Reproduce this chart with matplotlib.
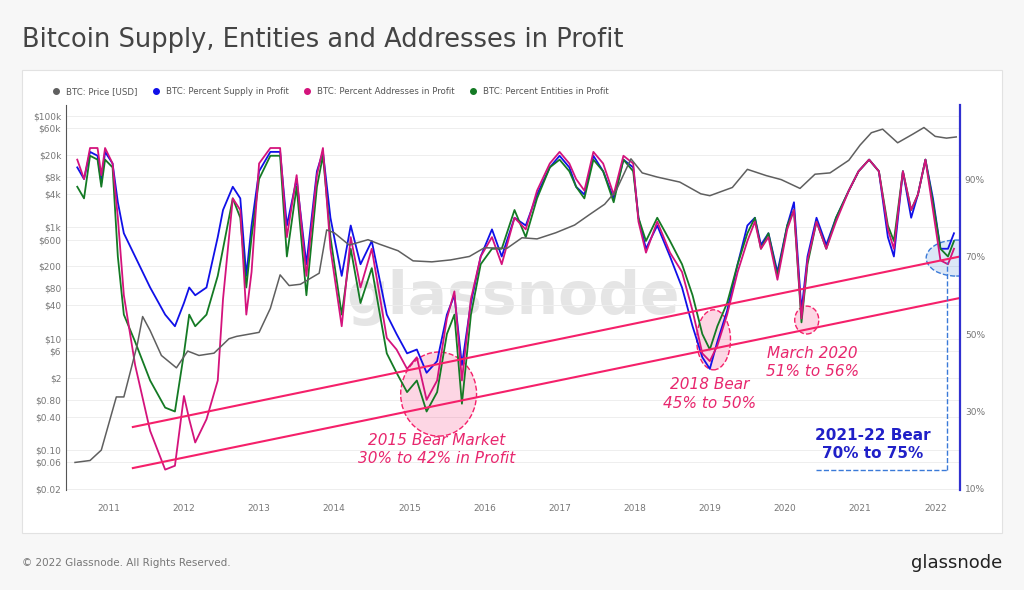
import matplotlib.pyplot as plt
from matplotlib.patches import Ellipse, Rectangle
from matplotlib.ticker import FixedLocator, NullLocator

# ── data ────────────────────────────────────────────────────────────────────
price_dates = [2010.55, 2010.75, 2010.9, 2011.0, 2011.1, 2011.2, 2011.3, 2011.38, 2011.45,
               2011.55, 2011.7, 2011.9, 2012.05, 2012.2, 2012.4, 2012.6, 2012.7, 2013.0,
               2013.15, 2013.28, 2013.4, 2013.55, 2013.8, 2013.9, 2014.0, 2014.2, 2014.45,
               2014.6, 2014.85, 2015.05, 2015.3, 2015.55, 2015.8, 2016.0, 2016.3, 2016.5,
               2016.7, 2016.95, 2017.2, 2017.4, 2017.6, 2017.75, 2017.95, 2018.1, 2018.3,
               2018.6, 2018.88, 2019.0, 2019.3, 2019.5, 2019.75, 2019.95, 2020.2, 2020.4,
               2020.6, 2020.85, 2021.0, 2021.15, 2021.3, 2021.5, 2021.7, 2021.85, 2022.0,
               2022.15, 2022.28]
price_usd = [0.06, 0.065, 0.1, 0.3, 0.9, 0.9, 3, 8, 25, 14, 5, 3, 6, 5, 5.5, 10, 11, 13,
             35, 140, 90, 95, 150, 900, 800, 480, 600, 500, 380, 250, 240, 260, 300, 430,
             420, 650, 620, 800, 1100, 1700, 2600, 4500, 17000, 9500, 8000, 6500, 4000,
             3700, 5200, 11000, 8500, 7200, 5000, 9000, 9500, 16000, 30000, 50000, 58000,
             33000, 47000, 62000, 43000, 40000, 42000]

pct_dates = [2010.58, 2010.67, 2010.75, 2010.85, 2010.9, 2010.95, 2011.05, 2011.12, 2011.2,
             2011.35, 2011.55, 2011.75, 2011.88, 2012.0, 2012.07, 2012.15, 2012.3, 2012.45,
             2012.52, 2012.65, 2012.75, 2012.83, 2012.9, 2013.0, 2013.15, 2013.28, 2013.37,
             2013.5, 2013.63, 2013.77, 2013.85, 2013.95, 2014.1, 2014.22, 2014.35, 2014.5,
             2014.7, 2014.83, 2014.97, 2015.1, 2015.23, 2015.37, 2015.5, 2015.6, 2015.7,
             2015.82, 2015.95, 2016.1, 2016.23, 2016.4, 2016.55, 2016.7, 2016.87, 2017.0,
             2017.13, 2017.22, 2017.33, 2017.45, 2017.58, 2017.72, 2017.85, 2017.98, 2018.05,
             2018.15, 2018.3, 2018.47, 2018.63, 2018.77, 2018.9, 2019.0, 2019.1, 2019.23,
             2019.37, 2019.5, 2019.6, 2019.68, 2019.78, 2019.9, 2020.03, 2020.12, 2020.22,
             2020.3, 2020.42, 2020.55, 2020.68, 2020.85, 2020.98, 2021.12, 2021.25, 2021.37,
             2021.45, 2021.57, 2021.68, 2021.77, 2021.87, 2021.97, 2022.07, 2022.17, 2022.25]
addresses_pct = [95, 90, 98, 98, 91, 98, 94, 80, 60, 42, 25, 15, 16, 34, 28, 22, 28, 38, 59,
                 85, 82, 55, 66, 94, 98, 98, 75, 91, 65, 91, 98, 72, 52, 75, 62, 72, 49, 46,
                 41, 44, 33, 38, 54, 61, 38, 59, 70, 75, 68, 80, 77, 87, 94, 97, 94, 90, 87,
                 97, 94, 86, 96, 94, 79, 71, 79, 71, 66, 56, 45, 43, 47, 55, 66, 74, 79, 72,
                 75, 64, 77, 82, 54, 69, 79, 72, 79, 87, 92, 95, 92, 77, 72, 92, 82, 86, 95,
                 82, 69, 68, 72]
supply_pct = [93, 90, 97, 96, 89, 97, 94, 84, 76, 70, 62, 55, 52, 58, 62, 60, 62, 75, 82,
              88, 85, 65, 78, 92, 97, 97, 78, 90, 68, 92, 97, 80, 65, 78, 68, 74, 55, 50,
              45, 46, 40, 43, 55, 60, 42, 58, 70, 77, 70, 80, 78, 86, 93, 96, 93, 88, 86,
              96, 92, 85, 95, 93, 80, 72, 78, 70, 62, 52, 44, 41, 48, 56, 68, 78, 80, 73,
              76, 66, 78, 84, 56, 70, 80, 73, 80, 87, 92, 95, 92, 75, 70, 92, 80, 86, 95,
              85, 72, 72, 76]
entities_pct = [88, 85, 96, 95, 88, 95, 93, 70, 55, 48, 38, 31, 30, 45, 55, 52, 55, 65, 72,
                85, 80, 62, 75, 90, 96, 96, 70, 88, 60, 88, 96, 75, 55, 72, 58, 67, 45, 40,
                35, 38, 30, 35, 50, 55, 32, 55, 68, 72, 72, 82, 75, 85, 93, 95, 92, 88, 85,
                95, 92, 84, 95, 92, 80, 74, 80, 74, 68, 60, 50, 46, 52, 58, 68, 76, 80, 72,
                76, 65, 78, 82, 53, 68, 79, 72, 80, 87, 92, 95, 92, 78, 74, 92, 82, 86, 95,
                84, 72, 70, 74]

trend_years = [2011.32, 2022.33]
trend_upper = [26.0, 70.0]
trend_lower = [15.4, 59.3]

price_ticks = [0.02, 0.06, 0.10, 0.40, 0.80, 2, 6, 10, 40, 80, 200, 600, 1e3, 4e3, 8e3,
               2e4, 6e4, 1e5]
price_labels = ["$0.02", "$0.06", "$0.10", "$0.40", "$0.80", "$2", "$6", "$10", "$40",
                "$80", "$200", "$600", "$1k", "$4k", "$8k", "$20k", "$60k", "$100k"]
pct_ticks = [10, 30, 50, 70, 90]
year_ticks = list(range(2011, 2023))

C_PRICE = "#5f5f5f"
C_SUPPLY = "#1010e8"
C_ADDR = "#d4137c"
C_ENT = "#147a24"
C_TREND = "#f5206a"
C_NOTE = "#e8276e"
C_BLUE = "#2020c8"

fig = plt.figure(figsize=(10.24, 5.9), dpi=100)
fig.patch.set_facecolor("#f7f7f7")
fig.patches.append(Rectangle((22 / 1024, 1 - 533 / 590), 980 / 1024, 463 / 590,
                             transform=fig.transFigure, facecolor="white",
                             edgecolor="#e2e2e2", lw=0.8, zorder=-1))

ax = fig.add_axes([66 / 1024, 1 - 490 / 590, 894 / 1024, 385 / 590])
ax2 = ax.twinx()

ax.set_yscale("log")
ax.set_ylim(10 ** -1.717, 10 ** 5.197)
ax.set_xlim(2010.43, 2022.33)
ax2.set_ylim(9.74, 109.1)

ax.yaxis.set_major_locator(FixedLocator(price_ticks))
ax.yaxis.set_minor_locator(NullLocator())
ax.set_yticklabels(price_labels)
ax.set_xticks(year_ticks)
ax.set_xticklabels([str(y) for y in year_ticks])
ax2.set_yticks(pct_ticks)
ax2.set_yticklabels([f"{p}%" for p in pct_ticks])

for a in (ax, ax2):
    a.tick_params(length=0, labelsize=6.5, colors="#777777")
    for s in a.spines.values():
        s.set_visible(False)
ax.tick_params(axis="x", pad=10)
ax.spines["left"].set_visible(True)
ax.spines["left"].set_color("#555555")
ax2.spines["right"].set_visible(True)
ax2.spines["right"].set_color("#3030d0")
ax2.spines["right"].set_linewidth(1.6)
ax.grid(axis="y", color="#eeeeee", lw=0.7)
ax.set_facecolor("none")

ax.text(0.5, 0.5, "glassnode", transform=ax.transAxes, ha="center", va="center",
        fontsize=42, color="#cccccc", alpha=0.5, fontweight="bold", zorder=0)

ax2.plot(pct_dates, supply_pct, color=C_SUPPLY, lw=1.3)
ax2.plot(pct_dates, entities_pct, color=C_ENT, lw=1.3)
ax2.plot(pct_dates, addresses_pct, color=C_ADDR, lw=1.3)
ax2.plot(trend_years, trend_upper, color=C_TREND, lw=1.5)
ax2.plot(trend_years, trend_lower, color=C_TREND, lw=1.5)

# price drawn via a transparent overlay on the price axis
ax3 = fig.add_axes(ax.get_position(), sharex=ax)
ax3.set_yscale("log")
ax3.set_ylim(ax.get_ylim())
ax3.axis("off")
ax3.plot(price_dates, price_usd, color=C_PRICE, lw=1.1)

for (cx, cy, w, h, col) in [(2015.39, 34.5, 1.01, 21.7, C_TREND),
                            (2019.05, 48.5, 0.45, 15.5, C_TREND),
                            (2020.29, 53.6, 0.32, 7.2, C_TREND),
                            (2022.28, 69.6, 0.8, 9.3, "#3a7ad8")]:
    ax2.add_patch(Ellipse((cx, cy), w, h, facecolor=col, alpha=0.18, edgecolor="none"))
    ax2.add_patch(Ellipse((cx, cy), w, h, facecolor="none", edgecolor=col, ls="--", lw=1))

ax2.plot([2022.16, 2022.16], [14.9, 68.5], color="#3a7ad8", ls="--", lw=1)
ax2.plot([2020.41, 2022.16], [14.9, 14.9], color="#3a7ad8", ls="--", lw=1)

note = dict(ha="center", va="center", fontsize=11, style="italic", color=C_NOTE,
            linespacing=1.3)
ax2.text(2015.37, 20.2, "2015 Bear Market\n30% to 42% in Profit", **note)
ax2.text(2019.0, 34.5, "2018 Bear\n45% to 50%", **note)
ax2.text(2020.37, 42.6, "March 2020\n51% to 56%", **note)
ax2.text(2021.17, 21.5, "2021-22 Bear\n70% to 75%", ha="center", va="center",
         fontsize=11, fontweight="bold", color=C_BLUE, linespacing=1.3)

handles = [plt.Line2D([], [], marker="o", ls="none", color=c, markersize=4)
           for c in (C_PRICE, C_SUPPLY, C_ADDR, C_ENT)]
fig.legend(handles, ["BTC: Price [USD]", "BTC: Percent Supply in Profit",
                     "BTC: Percent Addresses in Profit", "BTC: Percent Entities in Profit"],
           loc="center left", bbox_to_anchor=(40 / 1024, 1 - 92 / 590), ncol=4,
           frameon=False, fontsize=6.2, handletextpad=0.1, columnspacing=1.2,
           labelcolor="#555555")

fig.text(22 / 1024, 1 - 40 / 590, "Bitcoin Supply, Entities and Addresses in Profit",
         fontsize=18.5, color="#444444", va="center")
fig.text(22 / 1024, 1 - 563 / 590, "© 2022 Glassnode. All Rights Reserved.",
         fontsize=7.5, color="#777777", va="center")
fig.text(1002 / 1024, 1 - 563 / 590, "glassnode", fontsize=13, color="#222222",
         va="center", ha="right")

fig.savefig("out.png", dpi=100)
